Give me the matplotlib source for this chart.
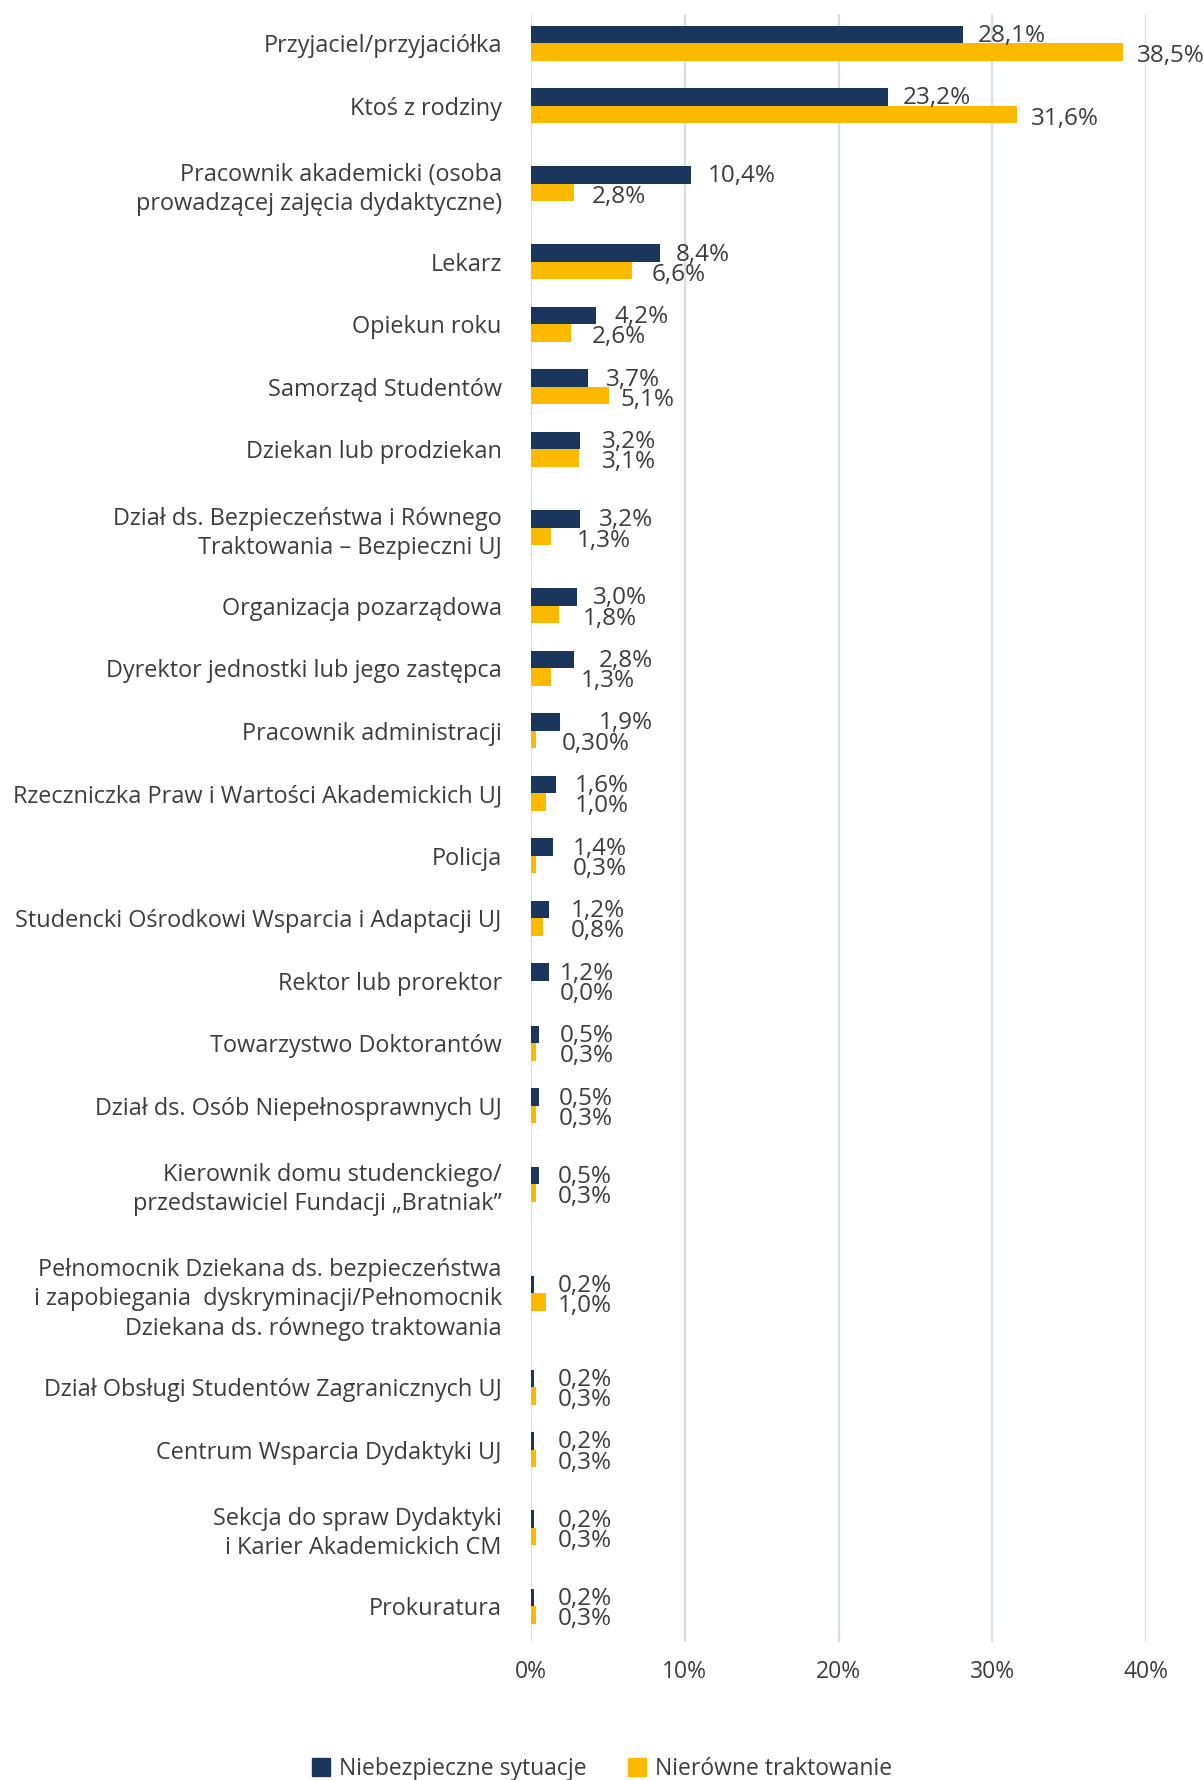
import matplotlib
matplotlib.use("Agg")
import matplotlib.pyplot as plt
from matplotlib.patches import Patch
import numpy as np

# ---------------- data ----------------
categories = [
    "Przyjaciel/przyjaciółka",
    "Ktoś z rodziny",
    "Pracownik akademicki (osoba\nprowadzącej zajęcia dydaktyczne)",
    "Lekarz",
    "Opiekun roku",
    "Samorząd Studentów",
    "Dziekan lub prodziekan",
    "Dział ds. Bezpieczeństwa i Równego\nTraktowania – Bezpieczni UJ",
    "Organizacja pozarządowa",
    "Dyrektor jednostki lub jego zastępca",
    "Pracownik administracji",
    "Rzeczniczka Praw i Wartości Akademickich UJ",
    "Policja",
    "Studencki Ośrodkowi Wsparcia i Adaptacji UJ",
    "Rektor lub prorektor",
    "Towarzystwo Doktorantów",
    "Dział ds. Osób Niepełnosprawnych UJ",
    "Kierownik domu studenckiego/\nprzedstawiciel Fundacji „Bratniak”",
    "Pełnomocnik Dziekana ds. bezpieczeństwa\ni zapobiegania  dyskryminacji/Pełnomocnik\nDziekana ds. równego traktowania",
    "Dział Obsługi Studentów Zagranicznych UJ",
    "Centrum Wsparcia Dydaktyki UJ",
    "Sekcja do spraw Dydaktyki\ni Karier Akademickich CM",
    "Prokuratura",
]
niebezpieczne = [28.1, 23.2, 10.4, 8.4, 4.2, 3.7, 3.2, 3.2, 3.0, 2.8, 1.9, 1.6,
                 1.4, 1.2, 1.2, 0.5, 0.5, 0.5, 0.2, 0.2, 0.2, 0.2, 0.2]
nierowne = [38.5, 31.6, 2.8, 6.6, 2.6, 5.1, 3.1, 1.3, 1.8, 1.3, 0.3, 1.0,
            0.3, 0.8, 0.0, 0.3, 0.3, 0.3, 1.0, 0.3, 0.3, 0.3, 0.3]
labels_niebezpieczne = ["28,1%", "23,2%", "10,4%", "8,4%", "4,2%", "3,7%", "3,2%",
                        "3,2%", "3,0%", "2,8%", "1,9%", "1,6%", "1,4%", "1,2%",
                        "1,2%", "0,5%", "0,5%", "0,5%", "0,2%", "0,2%", "0,2%",
                        "0,2%", "0,2%"]
labels_nierowne = ["38,5%", "31,6%", "2,8%", "6,6%", "2,6%", "5,1%", "3,1%",
                   "1,3%", "1,8%", "1,3%", "0,30%", "1,0%", "0,3%", "0,8%",
                   "0,0%", "0,3%", "0,3%", "0,3%", "1,0%", "0,3%", "0,3%",
                   "0,3%", "0,3%"]
series_names = ["Niebezpieczne sytuacje", "Nierówne traktowanie"]
xticks = [0, 10, 20, 30, 40]
xtick_labels = ["0%", "10%", "20%", "30%", "40%"]

# label placement (x in axis units, manually positioned as in the source)
lx_niebezpieczne = [29.07, 24.2, 11.5, 9.44, 5.46, 4.88, 4.6, 4.42, 4.03, 4.42,
                    4.42, 2.86, 2.71, 2.6, 1.89, 1.85, 1.8, 1.76, 1.76, 1.76,
                    1.76, 1.76, 1.76]
lx_nierowne = [39.4, 32.5, 3.97, 7.82, 3.94, 5.79, 4.6, 2.99, 3.38, 3.25, 2.0,
               2.86, 2.73, 2.6, 1.89, 1.85, 1.8, 1.76, 1.76, 1.76, 1.76, 1.76,
               1.76]

# ---------------- style ----------------
NAVY = "#1b365d"
YELLOW = "#fbba00"
TEXT = "#3d3d3d"
GRID = "#d6deeb"
FONT = ["Open Sans", "DejaVu Sans"]
FS_CAT = 16.9
FS_VAL = 17.5
FS_TICK = 16.5

plt.rcParams["font.family"] = FONT

fig = plt.figure(figsize=(12.04, 17.80), dpi=100)
ax = fig.add_axes([531 / 1204, 1 - 1642 / 1780, 615 / 1204, 1628 / 1780])

# row layout: multi-line labels take more room
nlines = [c.count("\n") + 1 for c in categories]
heights = np.array([1 + 0.5 * (n - 1) for n in nlines])
edges = np.concatenate([[0], np.cumsum(heights)])
centers = (edges[:-1] + edges[1:]) / 2
bh = 0.28

ax.barh(centers - bh / 2, niebezpieczne, height=bh, color=NAVY, zorder=3,
        label=series_names[0])
ax.barh(centers + bh / 2, nierowne, height=bh, color=YELLOW, zorder=3,
        label=series_names[1])

for i in range(len(categories)):
    ax.text(lx_niebezpieczne[i], centers[i] - bh / 2 - 0.025, labels_niebezpieczne[i],
            ha="left", va="center_baseline", fontsize=FS_VAL, color=TEXT, zorder=4,
            clip_on=False)
    ax.text(lx_nierowne[i], centers[i] + bh / 2 + 0.02, labels_nierowne[i],
            ha="left", va="center_baseline", fontsize=FS_VAL, color=TEXT, zorder=4,
            clip_on=False)

ax.set_xlim(0, 40)
ax.set_ylim(edges[-1] + 0.075, 0.035)
ax.set_xticks(xticks)
ax.set_xticklabels(xtick_labels, fontsize=FS_TICK, color=TEXT)
ax.set_yticks(centers)
ax.set_yticklabels(categories, fontsize=FS_CAT, color=TEXT)
for t in ax.get_yticklabels():
    t.set_linespacing(1.3)
ax.tick_params(axis="y", length=0, pad=21)
ax.tick_params(axis="x", length=0, pad=13)
ax.grid(axis="x", color=GRID, lw=1.6, zorder=0)
for s in ax.spines.values():
    s.set_visible(False)

handles = [Patch(color=NAVY), Patch(color=YELLOW)]
fig.legend(handles, series_names, loc="center", bbox_to_anchor=(0.5, 1 - 1769 / 1780),
           ncol=2, frameon=False, fontsize=FS_TICK, labelcolor=TEXT,
           handlelength=0.77, handleheight=0.77, handletextpad=0.4,
           columnspacing=1.8)

fig.savefig("out.png", dpi=100)
